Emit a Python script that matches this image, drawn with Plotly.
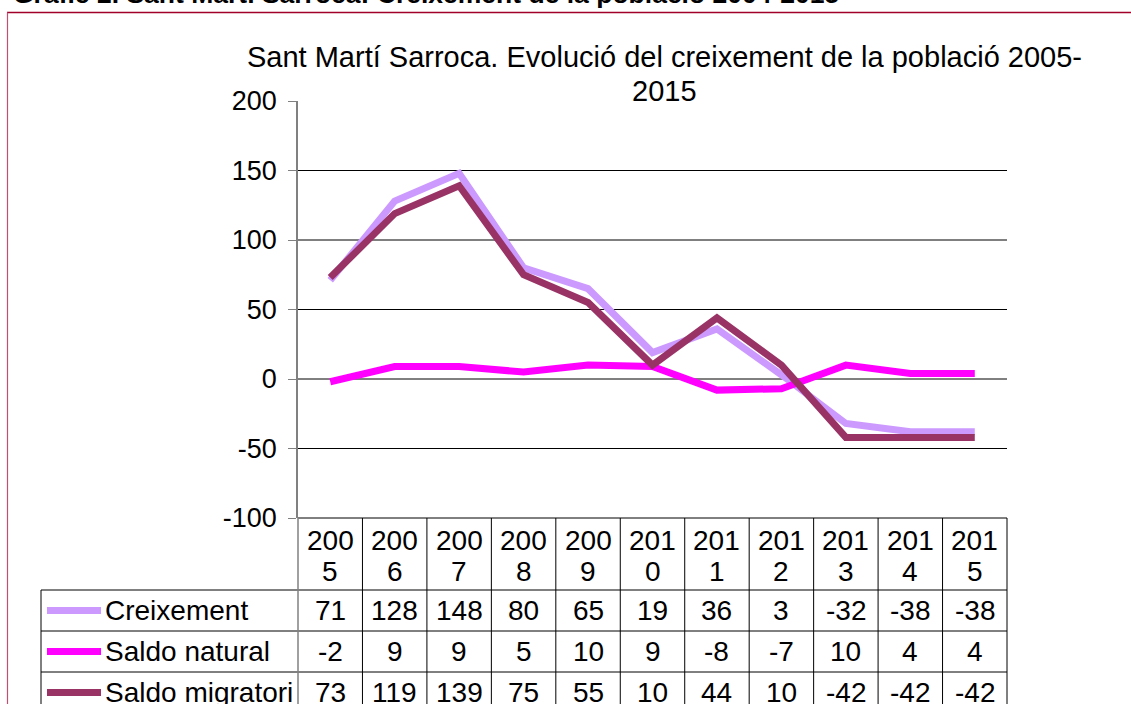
import plotly.graph_objects as go

years = ["2005", "2006", "2007", "2008", "2009", "2010", "2011", "2012", "2013", "2014", "2015"]
creixement = [71, 128, 148, 80, 65, 19, 36, 3, -32, -38, -38]
saldo_natural = [-2, 9, 9, 5, 10, 9, -8, -7, 10, 4, 4]
saldo_migratori = [73, 119, 139, 75, 55, 10, 44, 10, -42, -42, -42]
series_names = ["Creixement", "Saldo natural", "Saldo migratori"]
series_values = [creixement, saldo_natural, saldo_migratori]
series_colors = ["#CC99FF", "#FF00FF", "#993366"]
y_ticks = [-100, -50, 0, 50, 100, 150, 200]
y_tick_labels = ["-100", "-50", "0", "50", "100", "150", "200"]
grid_vals = [-50, 0, 50, 100, 150]
title_lines = ["Sant Martí Sarroca. Evolució del creixement de la població 2005-", "2015"]
caption = "Gràfic 2. Sant Martí Sarroca: Creixement de la població 2004-2015"

W, H = 1131, 704
L, R, T, B = 298, 1007, 101, 518
FONT = "Liberation Sans, Arial, sans-serif"
FS = 27
TFS = 28


def px(x):
    return (x - L) / (R - L)


def py(y):
    return (B - y) / (B - T)


fig = go.Figure()
for name, vals, col in zip(series_names, series_values, series_colors):
    fig.add_trace(go.Scatter(x=years, y=vals, name=name, mode="lines",
                             line=dict(color=col, width=7), showlegend=False,
                             cliponaxis=False))

shapes = []
annotations = []

# gridlines
for g in grid_vals:
    shapes.append(dict(type="line", xref="paper", yref="y", x0=0, x1=1, y0=g, y1=g,
                       line=dict(color="#000000", width=1), layer="below"))

# table geometry (pixels)
row_edges = [518, 590, 631, 672, 713]
n = len(years)
col_w = (R - L) / n
tbl_col = "#000000"
shapes.append(dict(type="line", xref="paper", yref="paper", x0=0, x1=1, y0=py(518), y1=py(518),
                   line=dict(color=tbl_col, width=1)))
for e in row_edges[1:4]:
    shapes.append(dict(type="line", xref="paper", yref="paper", x0=px(41), x1=1, y0=py(e), y1=py(e),
                       line=dict(color=tbl_col, width=1)))
for i in range(1, n + 1):
    xx = px(L + i * col_w)
    shapes.append(dict(type="line", xref="paper", yref="paper", x0=xx, x1=xx, y0=py(518), y1=py(710),
                       line=dict(color=tbl_col, width=1)))
shapes.append(dict(type="line", xref="paper", yref="paper", x0=0, x1=0, y0=py(518), y1=py(710),
                   line=dict(color="#808080", width=1.5)))
shapes.append(dict(type="line", xref="paper", yref="paper", x0=px(41), x1=px(41), y0=py(590), y1=py(710),
                   line=dict(color=tbl_col, width=1)))

# header years (two lines each)
for i, yr in enumerate(years):
    cx = px(L + (i + 0.5) * col_w)
    for part, yy in ((yr[:3], 540), (yr[3:], 571)):
        annotations.append(dict(xref="paper", yref="paper", x=cx, y=py(yy),
                                text=part, showarrow=False, xanchor="center", yanchor="middle",
                                font=dict(family=FONT, size=TFS, color="#000")))
# rows
for r, (name, vals, col) in enumerate(zip(series_names, series_values, series_colors)):
    cy = (row_edges[r + 1] + row_edges[r + 2]) / 2
    shapes.append(dict(type="line", xref="paper", yref="paper", x0=px(47), x1=px(101), y0=py(cy), y1=py(cy),
                       line=dict(color=col, width=7)))
    annotations.append(dict(xref="paper", yref="paper", x=px(103), y=py(cy), text=name, showarrow=False,
                            xanchor="left", yanchor="middle", font=dict(family=FONT, size=TFS, color="#000")))
    for i, v in enumerate(vals):
        annotations.append(dict(xref="paper", yref="paper", x=px(L + (i + 0.5) * col_w), y=py(cy),
                                text=str(v), showarrow=False, xanchor="center", yanchor="middle",
                                font=dict(family=FONT, size=TFS, color="#000")))

# chart title (two lines)
for line, yy in zip(title_lines, (57, 91)):
    annotations.append(dict(xref="paper", yref="paper", x=px(664), y=py(yy),
                            text=line, showarrow=False, xanchor="center", yanchor="middle",
                            font=dict(family=FONT, size=29, color="#000")))
# cropped document caption
annotations.append(dict(xref="paper", yref="paper", x=px(11), y=py(-6),
                        text="<b>" + caption + "</b>",
                        showarrow=False, xanchor="left", yanchor="middle",
                        font=dict(family=FONT, size=26.5, color="#000")))

# frame
shapes.append(dict(type="line", xref="paper", yref="paper", x0=px(7), x1=px(1135), y0=py(12.5), y1=py(12.5),
                   line=dict(color="#A0002A", width=1.5)))
shapes.append(dict(type="line", xref="paper", yref="paper", x0=px(7.5), x1=px(7.5), y0=py(12.5), y1=py(710),
                   line=dict(color="#C0506E", width=1.2)))

fig.update_layout(
    width=W, height=H,
    margin=dict(l=L, r=W - R, t=T, b=H - B, pad=0),
    paper_bgcolor="white", plot_bgcolor="white",
    shapes=shapes, annotations=annotations,
    xaxis=dict(type="category", range=[-0.5, n - 0.5], showgrid=False, showline=False,
               showticklabels=False, ticks="", zeroline=False, fixedrange=True),
    yaxis=dict(range=[-100, 200], tickvals=y_ticks, ticktext=y_tick_labels, showgrid=False, zeroline=False,
               showline=True, linecolor="#808080", linewidth=1.5,
               ticks="outside", ticklen=8, tickcolor="#808080", tickwidth=1,
               ticklabelstandoff=6,
               tickfont=dict(family=FONT, size=FS, color="#000")),
)

fig.write_html("out.html", config={"displayModeBar": False},
               post_script="document.body.style.margin='0';document.body.style.padding='0';document.body.style.overflow='hidden';")
